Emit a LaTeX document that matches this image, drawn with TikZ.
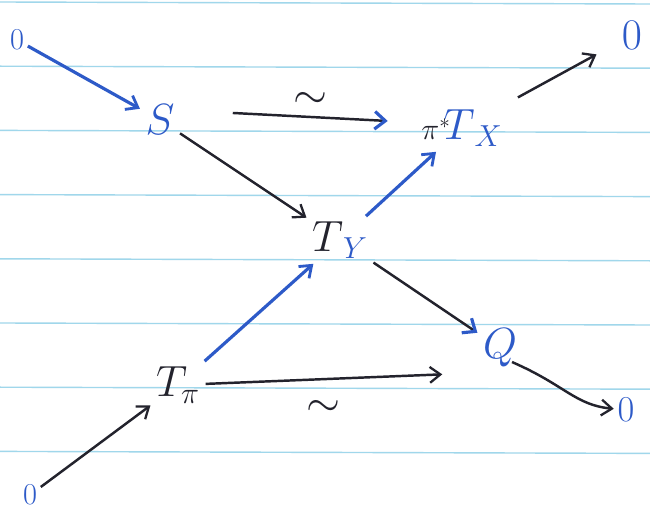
\documentclass[tikz,border=0pt]{standalone}
\usepackage{amsmath}
\usetikzlibrary{arrows.meta}
\definecolor{pen}{RGB}{45,90,200}
\definecolor{ink}{RGB}{35,35,45}
\definecolor{rule}{RGB}{160,215,235}
\tikzset{
  obj/.style={inner sep=3pt, font=\fontsize{24}{28}\selectfont},
  zero/.style={inner sep=2pt, text=pen, font=\fontsize{20}{24}\selectfont},
  arr/.style={ink, line width=1.4pt, -{Straight Barb[length=6pt,width=9pt,line width=1.3pt]}},
  barr/.style={pen, line width=1.8pt, -{Straight Barb[length=6pt,width=9pt,line width=1.6pt]}},
  mixarr/.style={ink, line width=1.4pt, -{Straight Barb[length=6pt,width=10pt,line width=1.8pt,color=pen]}},
  iso/.style={ink, font=\fontsize{28}{30}\selectfont}
}
\begin{document}
\begin{tikzpicture}[x=0.02cm,y=-0.02cm]
\useasboundingbox (0,0) rectangle (650,510);
\fill[white] (0,0) rectangle (650,510);
\foreach \k in {0,...,7} \draw[rule, line width=0.8pt] (0,{2+64.2*\k}) -- (650,{2+64.2*\k+2});
% objects
\node[zero,font=\fontsize{16}{20}\selectfont] (z1) at (17,40) {$0$};
\node[zero,font=\fontsize{26}{30}\selectfont] (z2) at (632,35) {$0$};
\node[zero] (z3) at (626,410) {$0$};
\node[zero,font=\fontsize{18}{22}\selectfont] (z4) at (30,495) {$0$};
\node[obj,text=pen] (S) at (160,120) {$S$};
\node[obj] (PT) at (462,128) {$\textcolor{ink}{\scriptstyle\pi^*}\!\textcolor{pen}{T}_{\textcolor{pen}{X}}$};
\node[obj] (TY) at (340,240) {$\textcolor{ink}{T}_{\textcolor{pen}{Y}}$};
\node[obj,text=pen] (Q) at (500,348) {$Q$};
\node[obj,text=ink] (Tp) at (178,385) {$T_{\pi}$};
% arrows
\draw[barr] (z1) -- (S);
\draw[mixarr] ([xshift=30pt,yshift=4pt]S.east) -- node[iso,above=1pt] {$\sim$} ([xshift=-16pt,yshift=4pt]PT.west);
\draw[arr] (S) -- (TY);
\draw[barr] (TY) -- (PT);
\draw[mixarr] (TY) -- (Q);
\draw[barr] (Tp) -- (TY);
\draw[arr] (Tp) -- node[iso,below=8pt] {$\sim$} ([xshift=-20pt,yshift=-15pt]Q.west);
\draw[arr] (z4) -- (Tp);
\draw[arr, shorten <=8pt, shorten >=14pt] (PT) -- (z2);
\draw[arr] ([xshift=-6pt,yshift=-8pt]Q.east) .. controls (565,385) and (575,405) .. (z3);
\end{tikzpicture}
\end{document}
